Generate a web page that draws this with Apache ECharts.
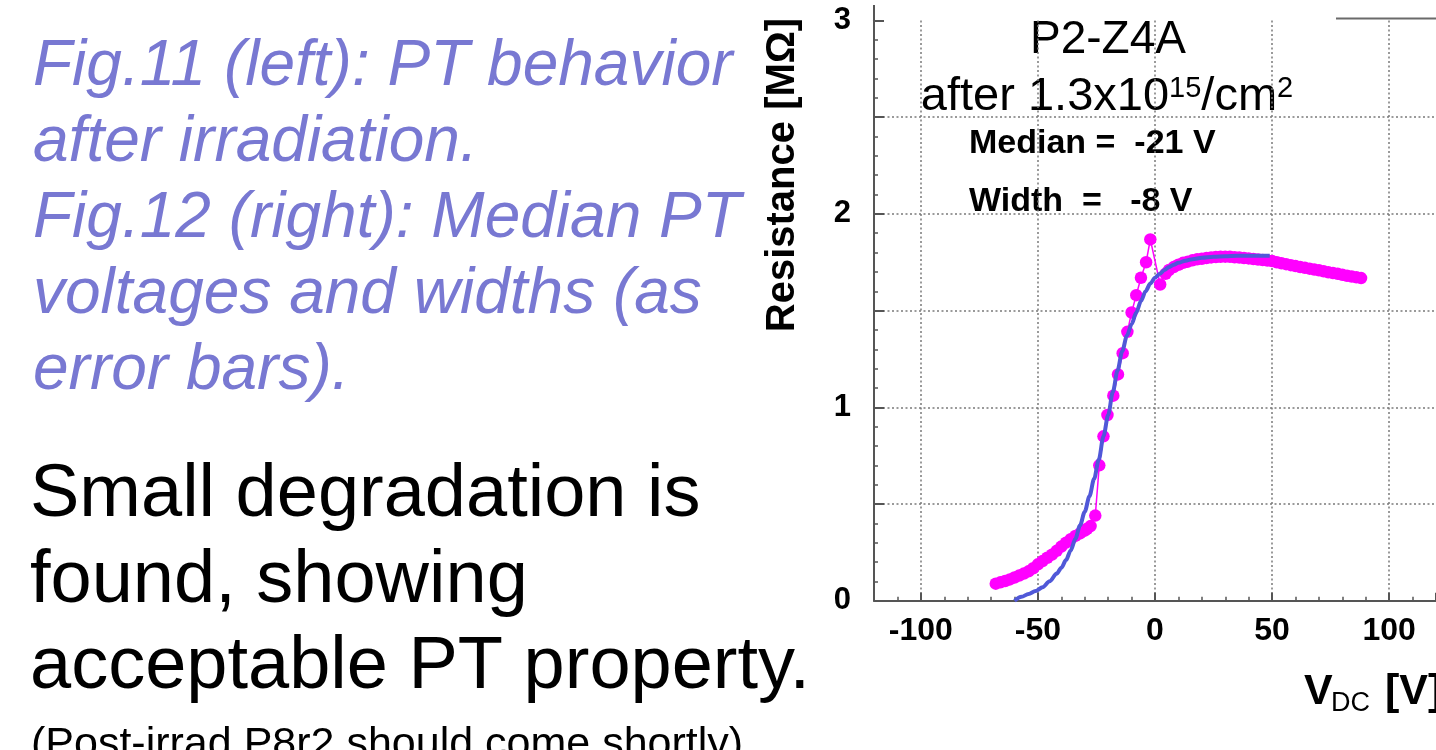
<!DOCTYPE html>
<html>
<head>
<meta charset="utf-8">
<script src="https://cdn.jsdelivr.net/npm/echarts@6/dist/echarts.min.js"></script>
<style>
  html, body { margin: 0; padding: 0; background: #ffffff; }
  #chart { width: 1436px; height: 750px; }
</style>
</head>
<body>
<div id="chart"></div>
<script>
// Measured resistance of P2-Z4A after 1.3e15/cm^2 (bias voltage in V, resistance in MOhm)
const measuredV = [
  -68, -66, -64, -62, -60, -58, -56, -54, -52, -50, -48, -46, -44, -42, -40,
  -38, -36, -34, -32, -30, -29, -27.5, -25.5,
  -23.8, -22.0, -20.3, -17.8, -15.8, -13.8, -11.8, -10.0, -8.0, -6.0, -3.8, -2.0,
  2.2, 4.5, 6, 8, 10, 12, 14, 16, 18, 20, 22, 24, 26, 28, 30, 32, 34, 36, 38, 40,
  42, 44, 46, 48, 50, 52, 54, 56, 58, 60, 62, 64, 66, 68, 70, 72, 74, 76, 78, 80,
  82, 84, 86, 88
];
const measuredR = [
  0.088, 0.095, 0.102, 0.110, 0.120, 0.130, 0.140, 0.152, 0.168, 0.188, 0.205, 0.222, 0.238, 0.258, 0.280,
  0.300, 0.318, 0.335, 0.348, 0.362, 0.372, 0.386, 0.440,
  0.700, 0.850, 0.960, 1.060, 1.170, 1.280, 1.390, 1.490, 1.580, 1.670, 1.750, 1.868,
  1.635, 1.690, 1.710, 1.725, 1.737, 1.747, 1.753, 1.760, 1.765, 1.768, 1.772, 1.775, 1.777, 1.778, 1.779, 1.778, 1.776, 1.774, 1.772, 1.770,
  1.767, 1.764, 1.761, 1.759, 1.756, 1.750, 1.745, 1.740, 1.735, 1.730, 1.725, 1.721, 1.717, 1.712, 1.708, 1.703, 1.698, 1.694, 1.690, 1.685,
  1.680, 1.676, 1.672, 1.668
];

// Fitted punch-through curve
const fitV = [
  -60, -57, -54, -51, -48, -45, -42, -40, -38, -36, -34, -32, -30, -28, -26, -24, -22, -20,
  -18, -16, -14, -12, -10, -8, -6, -4, -2, 0, 2, 4, 6, 8, 10, 13, 16, 20, 25, 30, 35, 40, 45, 49
];
const fitR = [
  0.000, 0.020, 0.035, 0.050, 0.070, 0.100, 0.140, 0.170, 0.210, 0.260, 0.320, 0.390, 0.460, 0.540, 0.630, 0.730, 0.850, 0.960,
  1.080, 1.190, 1.290, 1.370, 1.430, 1.490, 1.550, 1.600, 1.640, 1.670, 1.690, 1.710, 1.725, 1.737, 1.747, 1.758, 1.766, 1.773, 1.778, 1.781, 1.783, 1.784, 1.784, 1.784
];

const yTickLabels = ['0', '1', '2', '3'];

const titleText = 'P2-Z4A';
const fluenceText = 'after 1.3x10{s|15}/cm{s|2}';
const medianText = 'Median =  -21 V';
const widthText = 'Width  =   -8 V';

const captionLines = [
  'Fig.11 (left): PT behavior',
  'after irradiation.',
  'Fig.12 (right): Median PT',
  'voltages and widths (as',
  'error bars).'
];
const summaryLines = [
  'Small degradation is',
  'found, showing',
  'acceptable PT property.'
];
const noteText = '(Post-irrad P8r2 should come shortly)';

const FONT = '"Liberation Sans", Arial, Helvetica, sans-serif';
const AXIS_COLOR = '#555555';
const GRID_COLOR = '#7a7a7a';

const pairs = (xs, ys) => xs.map((x, i) => [x, ys[i]]);

const graphics = [];

// slide text on the left
captionLines.forEach((t, i) => {
  graphics.push({
    type: 'text', x: 33, y: 67 + i * 76,
    style: { text: t, fill: '#7878d2', font: 'italic 64px ' + FONT, verticalAlign: 'middle', align: 'left' }
  });
});
summaryLines.forEach((t, i) => {
  graphics.push({
    type: 'text', x: 30, y: 496 + i * 86,
    style: { text: t, fill: '#000000', font: '74px ' + FONT, verticalAlign: 'middle', align: 'left' }
  });
});
graphics.push({
  type: 'text', x: 31, y: 745,
  style: { text: noteText, fill: '#000000', font: '43px ' + FONT, verticalAlign: 'middle', align: 'left' }
});

// plot annotations
graphics.push(
  { type: 'text', x: 1108, y: 40.5,
    style: { text: titleText, fill: '#000', font: '46px ' + FONT, align: 'center', verticalAlign: 'middle' } },
  { type: 'text', x: 1107, y: 97.5,
    style: { text: fluenceText, fill: '#000', fontSize: 47, fontFamily: FONT, align: 'center', verticalAlign: 'middle',
             rich: { s: { fontSize: 29, fontFamily: FONT, fill: '#000', verticalAlign: 'top' } } } },
  { type: 'text', x: 969, y: 144,
    style: { text: medianText, fill: '#000', font: 'bold 34px ' + FONT, align: 'left', verticalAlign: 'middle' } },
  { type: 'text', x: 969, y: 202,
    style: { text: widthText, fill: '#000', font: 'bold 34px ' + FONT, align: 'left', verticalAlign: 'middle' } },
  // axis titles
  { type: 'text', x: 783, y: 175, rotation: Math.PI / 2,
    style: { text: 'Resistance [MΩ]', fill: '#000', font: 'bold 40px ' + FONT, align: 'center', verticalAlign: 'middle' } },
  { type: 'text', x: 1304, y: 692,
    style: { text: 'V', fill: '#000', font: 'bold 43px ' + FONT, align: 'left', verticalAlign: 'middle' } },
  { type: 'text', x: 1331, y: 704,
    style: { text: 'DC', fill: '#000', font: '27px ' + FONT, align: 'left', verticalAlign: 'middle' } },
  { type: 'text', x: 1385, y: 692,
    style: { text: '[V]', fill: '#000', font: 'bold 43px ' + FONT, align: 'left', verticalAlign: 'middle' } },
  // frame pieces above the top of the value range
  { type: 'line', shape: { x1: 874, y1: 5, x2: 874, y2: 21 }, style: { stroke: AXIS_COLOR, lineWidth: 2 } },
  { type: 'line', shape: { x1: 1336, y1: 18.5, x2: 1436, y2: 18.5 }, style: { stroke: '#6a6a6a', lineWidth: 2 } }
);

const chart = echarts.init(document.getElementById('chart'), null, { renderer: 'canvas' });
chart.setOption({
  animation: false,
  backgroundColor: '#ffffff',
  grid: { left: 874, top: 20.5, width: 568, height: 580.2 },
  xAxis: {
    type: 'value', min: -120, max: 120,
    axisLine: { onZero: false, lineStyle: { color: AXIS_COLOR, width: 2 } },
    axisTick: { inside: true, length: 8, lineStyle: { color: AXIS_COLOR, width: 2 } },
    minorTick: { show: true, splitNumber: 5, length: 4, lineStyle: { color: AXIS_COLOR, width: 1.5 } },
    axisLabel: { showMinLabel: false, showMaxLabel: false, margin: 14, color: '#000',
                 fontFamily: FONT, fontWeight: 'bold', fontSize: 32 },
    splitLine: { show: true, showMinLine: false, showMaxLine: false,
                 lineStyle: { color: GRID_COLOR, width: 1.5, type: [2, 2.5] } }
  },
  yAxis: {
    type: 'value', min: 0, max: 3, interval: 0.5,
    axisLine: { show: true, onZero: false, lineStyle: { color: AXIS_COLOR, width: 2 } },
    axisTick: { show: true, inside: true, length: 10, lineStyle: { color: AXIS_COLOR, width: 2 } },
    minorTick: { show: true, splitNumber: 5, length: 4, lineStyle: { color: AXIS_COLOR, width: 1.5 } },
    axisLabel: {
      margin: 23, color: '#000', fontFamily: FONT, fontWeight: 'bold', fontSize: 31,
      formatter: v => (Number.isInteger(v) ? yTickLabels[v] : '')
    },
    splitLine: { show: true, showMinLine: false, showMaxLine: false,
                 lineStyle: { color: GRID_COLOR, width: 1.5, type: [2, 2.5] } }
  },
  series: [
    {
      name: 'measured', type: 'line', data: pairs(measuredV, measuredR),
      symbol: 'circle', symbolSize: 12.5, showSymbol: true, showAllSymbol: true,
      itemStyle: { color: '#ff00ff' },
      lineStyle: { color: '#ff00ff', width: 1.5 },
      z: 2
    },
    {
      name: 'fit', type: 'line', data: pairs(fitV, fitR),
      showSymbol: false, smooth: 0.3, smoothMonotone: 'x',
      lineStyle: { color: '#5058d8', width: 4 },
      z: 3
    }
  ],
  graphic: graphics
});
</script>
</body>
</html>
